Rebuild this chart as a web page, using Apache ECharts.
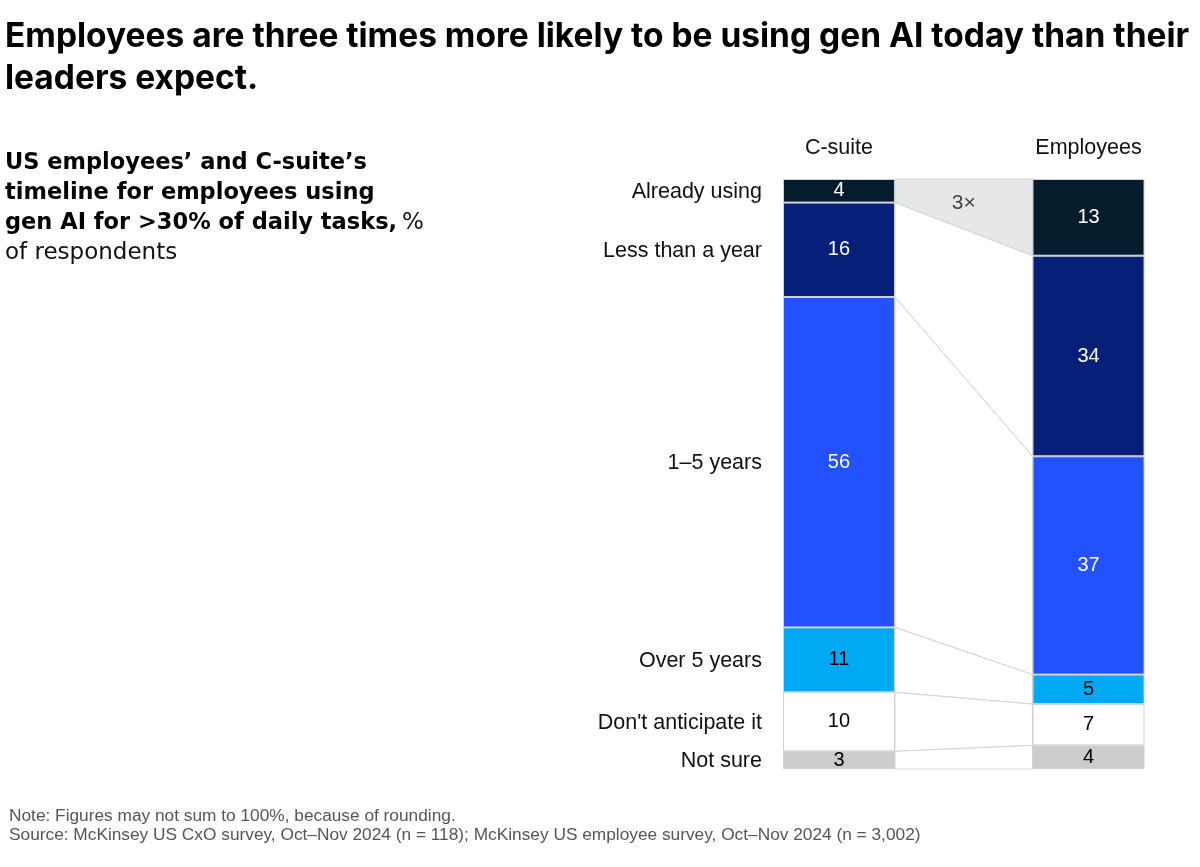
<!DOCTYPE html>
<html><head><meta charset="utf-8">
<script src="https://cdn.jsdelivr.net/npm/echarts@6/dist/echarts.min.js"></script>
<style>html,body{margin:0;padding:0;background:#fff}#c{width:1200px;height:867px}</style>
</head><body><div id="c"></div>
<script>
const groups = ['C-suite', '', 'Employees'];
const rows = ['Already using', 'Less than a year', '1–5 years', 'Over 5 years', "Don't anticipate it", 'Not sure'];
const csuite = [4, 16, 56, 11, 10, 3];
const employees = [13, 34, 37, 5, 7, 4];
const rowColors = ['#051c2c', '#061f79', '#2251ff', '#00a9f4', '#ffffff', '#cccccc'];
const labelColors = ['#fff', '#fff', '#fff', '#000', '#000', '#000'];
const multipleLabel = '3×';

const FONT = '"Liberation Sans", Arial, sans-serif';
const BAR_W = 112;

function cum(arr) { const s = []; let t = 0; arr.forEach(v => { s.push([t, t + v]); t += v; }); return s; }
const cC = cum(csuite), cE = cum(employees);

const series = rows.map((r, i) => ({
  name: r, type: 'bar', stack: 'all', barWidth: BAR_W,
  data: [csuite[i], '-', employees[i]],
  itemStyle: { color: rowColors[i], borderColor: '#cfcfcf', borderWidth: 1 },
  label: { show: true, position: 'inside', color: labelColors[i], fontSize: 20, fontFamily: FONT },
  emphasis: { disabled: true }
}));

series.push({
  type: 'custom', coordinateSystem: 'cartesian2d', z: 1, clip: false,
  data: rows.map((_, k) => [0, 0, k]),
  renderItem: function (params, api) {
    const k = api.value(2);
    const xl = api.coord([0, 0])[0] + BAR_W / 2;
    const xr = api.coord([2, 0])[0] - BAR_W / 2;
    const xb = api.coord([0, 0])[0] - BAR_W / 2;
    const y = v => api.coord([0, v])[1];
    const pts = [[xl, y(cC[k][0])], [xr, y(cE[k][0])], [xr, y(cE[k][1])], [xl, y(cC[k][1])]];
    const children = [{
      type: 'polygon', shape: { points: pts },
      style: { fill: k === 0 ? '#e6e7e8' : '#ffffff', stroke: '#d4d4d4', lineWidth: 1 }
    }, {
      type: 'text', x: xb - 21, y: (y(cC[k][0]) + y(cC[k][1])) / 2 + 1,
      style: { text: rows[k], fill: '#111', font: '21.5px ' + FONT, align: 'right', verticalAlign: 'middle' }
    }];
    if (k === 0) {
      children.push({
        type: 'text', x: (xl + xr) / 2, y: (y(cC[0][0]) + (y(cC[0][1]) + y(cE[0][1])) / 2) / 2 - 1,
        style: { text: multipleLabel, fill: '#444', font: '21px ' + FONT, align: 'center', verticalAlign: 'middle' }
      });
    }
    return { type: 'group', children: children };
  }
});

const chart = echarts.init(document.getElementById('c'));
chart.setOption({
  animation: false,
  backgroundColor: '#fff',
  title: [{
    text: 'Employees are three times more likely to be using gen AI today than their\nleaders expect.',
    left: 0, top: 11,
    textStyle: { fontFamily: 'Inter, sans-serif', fontWeight: 'bold', fontSize: 33.5, lineHeight: 42, color: '#000' }
  }, {
    text: '{b|US employees’ and C-suite’s}\n{b|timeline for employees using}\n{b|gen AI for >30% of daily tasks,} {r|%}\n{r|of respondents}',
    left: 0, top: 143,
    textStyle: {
      rich: {
        b: { fontFamily: '"DejaVu Sans", sans-serif', fontWeight: 'bold', fontSize: 22.5, lineHeight: 30, color: '#000' },
        r: { fontFamily: '"DejaVu Sans", sans-serif', fontWeight: 'normal', fontSize: 23, lineHeight: 30, color: '#111' }
      }
    }
  }, {
    text: 'Note: Figures may not sum to 100%, because of rounding.\nSource: McKinsey US CxO survey, Oct–Nov 2024 (n = 118); McKinsey US employee survey, Oct–Nov 2024 (n = 3,002)',
    left: 4, top: 802,
    textStyle: { fontFamily: FONT, fontSize: 17.3, lineHeight: 19, color: '#555', fontWeight: 'normal' }
  }],
  grid: { left: 776.6, right: 49.1, top: 179, bottom: 98 },
  xAxis: {
    type: 'category', data: groups, position: 'top',
    axisLine: { show: false }, axisTick: { show: false },
    axisLabel: { fontSize: 21.5, fontFamily: FONT, color: '#111', margin: 20 }
  },
  yAxis: { type: 'value', min: 0, max: 100, inverse: true, show: false, splitLine: { show: false } },
  series: series
});
</script>
</body></html>
